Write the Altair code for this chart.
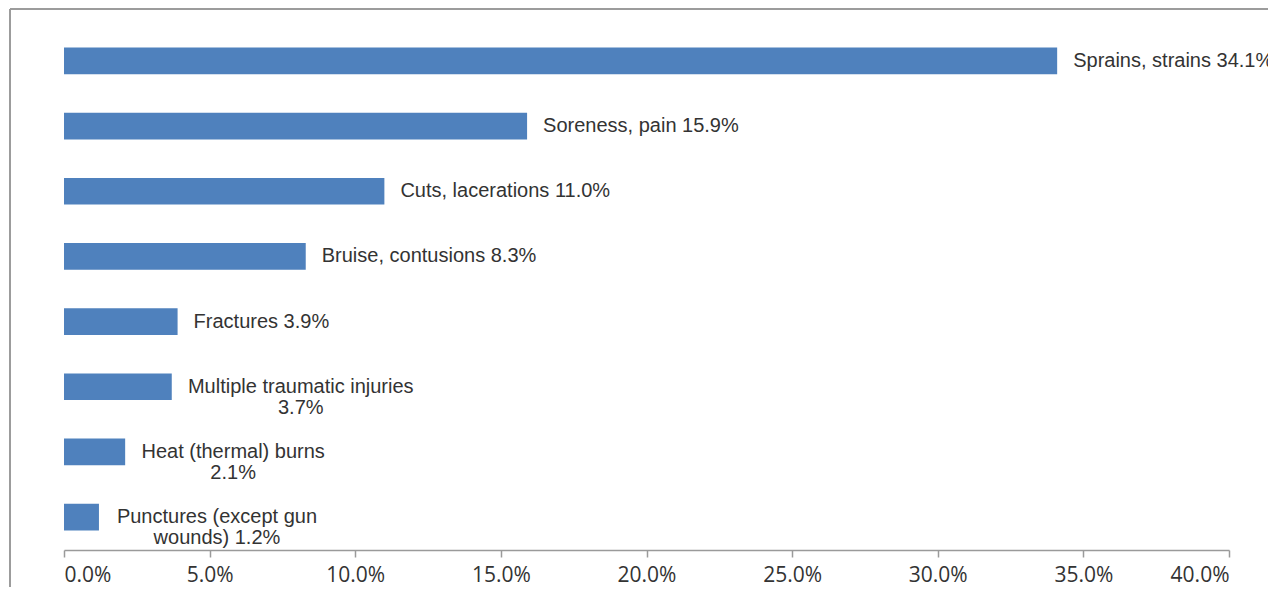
import altair as alt
import pandas as pd

categories = [
    "Sprains, strains",
    "Soreness, pain",
    "Cuts, lacerations",
    "Bruise, contusions",
    "Fractures",
    "Multiple traumatic injuries",
    "Heat (thermal) burns",
    "Punctures (except gun wounds)",
]
values = [0.341, 0.159, 0.110, 0.083, 0.039, 0.037, 0.021, 0.012]
labels = [
    "Sprains, strains 34.1%",
    "Soreness, pain 15.9%",
    "Cuts, lacerations 11.0%",
    "Bruise, contusions 8.3%",
    "Fractures 3.9%",
    "Multiple traumatic injuries\n3.7%",
    "Heat (thermal) burns\n2.1%",
    "Punctures (except gun\nwounds) 1.2%",
]
tick_values = [0.0, 0.05, 0.10, 0.15, 0.20, 0.25, 0.30, 0.35, 0.40]

df = pd.DataFrame({"category": categories, "value": values, "label": labels})

TEXT_COLOR = "#333333"
LABEL_FONT = "Liberation Sans"
LABEL_SIZE = 20

x_enc = alt.X(
    "value:Q",
    scale=alt.Scale(domain=[0, 0.4], nice=False),
    axis=alt.Axis(
        values=tick_values,
        format=".1%",
        grid=False,
        title=None,
        domainColor="#9a9a9a",
        domainWidth=1.5,
        tickColor="#9a9a9a",
        tickWidth=1.5,
        tickSize=7,
        labelFont="Open Sans",
        labelFontSize=21,
        labelColor=TEXT_COLOR,
        labelPadding=7,
    ),
)
y_enc = alt.Y(
    "category:N",
    sort=categories,
    axis=None,
    scale=alt.Scale(paddingInner=0.59, paddingOuter=0.3),
)

base = alt.Chart(df)

bars = base.mark_bar(color="#4F81BD").encode(x=x_enc, y=y_enc)

single = ["Sprains, strains", "Soreness, pain", "Cuts, lacerations",
          "Bruise, contusions", "Fractures"]

text_single = base.mark_text(
    align="left", baseline="middle", dx=16,
    font=LABEL_FONT, fontSize=LABEL_SIZE, color=TEXT_COLOR,
).encode(x="value:Q", y=alt.Y("category:N", sort=categories), text="label:N").transform_filter(
    alt.FieldOneOfPredicate(field="category", oneOf=single)
)

# two-line labels, centred lines (style offsets per label)
multi_dx = {
    "Multiple traumatic injuries": 129,
    "Heat (thermal) burns": 108,
    "Punctures (except gun wounds)": 118,
}
multi_layers = []
for cat, dx in multi_dx.items():
    multi_layers.append(
        base.mark_text(
            align="center", baseline="middle", dx=dx, lineBreak="\n", lineHeight=21,
            font=LABEL_FONT, fontSize=LABEL_SIZE, color=TEXT_COLOR,
        ).encode(x="value:Q", y=alt.Y("category:N", sort=categories), text="label:N").transform_filter(
            alt.datum.category == cat
        )
    )

frame_df = pd.DataFrame({"f": [0]})
frame_top = alt.Chart(frame_df).mark_rule(color="#9c9c9c", strokeWidth=2).encode(
    x=alt.value(-54), x2=alt.value(1300), y=alt.value(-19)
)
frame_left = alt.Chart(frame_df).mark_rule(color="#9c9c9c", strokeWidth=2).encode(
    x=alt.value(-54), y=alt.value(-19), y2=alt.value(700)
)

chart = alt.layer(frame_top, frame_left, bars, text_single, *multi_layers).properties(
    width=1165,
    height=522,
    autosize=alt.AutoSizeParams(type="none"),
    padding={"left": 56, "top": 20, "right": 39, "bottom": 37},
).configure_view(stroke=None)

chart.save("out.html", embed_options={"renderer": "svg", "actions": False})
